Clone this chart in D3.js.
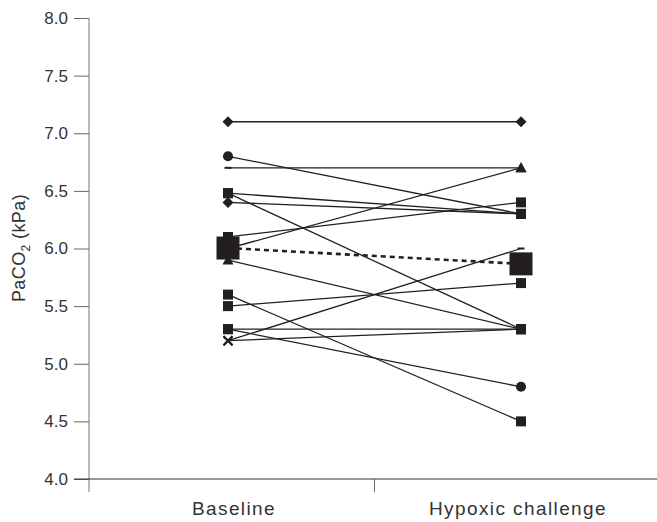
<!DOCTYPE html>
<html>
<head>
<meta charset="utf-8">
<script src="https://cdn.jsdelivr.net/npm/d3@7"></script>
<style>
    body { margin: 0; background: #fff; }
    text { font-family: "Liberation Sans", Arial, sans-serif; fill: #333; }
</style>
</head>
<body>
<div id="chart"></div>
<script>
// categories on the x axis
const conditions = ["Baseline", "Hypoxic challenge"];

// PaCO2 (kPa) per subject
const baseline = [7.1, 6.8, 6.7, 6.48, 6.48, 6.4, 6.1, 6.0, 5.9, 5.6, 5.5, 5.3, 5.3, 5.2, 5.2];
const hypoxic  = [7.1, 6.3, 6.7, 6.3, 5.3, 6.3, 6.4, 6.7, 5.3, 4.5, 5.7, 5.3, 4.8, 6.0, 5.3];

// marker drawn at each end of a subject's line
const baseSymbol = ["diamond", "circle", "dash", "square", "square", "diamond", "square", "square",
                    "triangle", "square", "square", "square", "square", "cross", "cross"];
const hypoSymbol = ["diamond", "square", "triangle", "square", "square", "square", "square", "triangle",
                    "square", "square", "square", "square", "circle", "dash", "square"];

const yTicks = [4.0, 4.5, 5.0, 5.5, 6.0, 6.5, 7.0, 7.5, 8.0];

const width = 657, height = 522;
const ink = "#231f20";

const svg = d3.select("#chart").append("svg")
    .attr("width", width)
    .attr("height", height);

// scales
const x = d3.scalePoint().domain(conditions).range([228, 521]);
const y = d3.scaleLinear().domain([4, 8]).range([479, 18]);

// y axis
const yAxis = svg.append("g")
    .attr("transform", "translate(89,0)")
    .call(d3.axisLeft(y).tickValues(yTicks).tickFormat(d3.format(".1f")).tickSize(15).tickPadding(6));
yAxis.select(".domain").remove();
yAxis.selectAll(".tick line").attr("stroke", "#666");
yAxis.selectAll(".tick text").attr("font-size", 17).style("fill", "#333");
yAxis.append("line")
    .attr("x1", 0).attr("x2", 0)
    .attr("y1", y(8)).attr("y2", y(4) + 13)
    .attr("stroke", "#777");

// x axis
svg.append("line")
    .attr("x1", 74).attr("x2", width)
    .attr("y1", y(4)).attr("y2", y(4))
    .attr("stroke", "#333").attr("stroke-width", 1.2);
const midX = (x(conditions[0]) + x(conditions[1])) / 2;
svg.append("line")
    .attr("x1", midX).attr("x2", midX)
    .attr("y1", y(4)).attr("y2", y(4) + 13)
    .attr("stroke", "#666");
// labels sit a little off the point positions in the original
const labelShift = [6, -3];
svg.selectAll(".x-label")
    .data(conditions)
    .enter().append("text")
    .attr("class", "x-label")
    .attr("x", (d, i) => x(d) + labelShift[i])
    .attr("y", 515)
    .attr("text-anchor", "middle")
    .attr("font-size", 19)
    .attr("letter-spacing", 1.4)
    .text(d => d);

// y label with subscript
const yLabel = svg.append("text")
    .attr("transform", "translate(25,248) rotate(-90)")
    .attr("text-anchor", "middle")
    .attr("font-size", 18)
    .attr("letter-spacing", 0.4);
yLabel.append("tspan").text("PaCO");
yLabel.append("tspan").text("2").attr("font-size", 12).attr("dy", 5);
yLabel.append("tspan").text(" (kPa)").attr("dy", -5);

// subject lines
const pairs = baseline.map((b, i) => ({b: b, h: hypoxic[i], bs: baseSymbol[i], hs: hypoSymbol[i]}));

svg.selectAll(".subject")
    .data(pairs)
    .enter().append("line")
    .attr("class", "subject")
    .attr("x1", x(conditions[0])).attr("y1", d => y(d.b))
    .attr("x2", x(conditions[1])).attr("y2", d => y(d.h))
    .attr("stroke", ink).attr("stroke-width", 1.3);

// marker shapes
function markerPath(type) {
    switch (type) {
        case "square": return "M-5,-5H5V5H-5Z";
        case "diamond": return "M0,-5.5L5.5,0L0,5.5L-5.5,0Z";
        case "circle": return d3.symbol(d3.symbolCircle, 80)();
        case "triangle": return "M0,-5.5L5.5,4.5H-5.5Z";
        case "dash": return "M-3.5,-1H3.5V1H-3.5Z";
        default: return "";
    }
}

function drawMarkers(cls, cx, accessor, symAccessor) {
    const g = svg.selectAll("." + cls)
        .data(pairs)
        .enter().append("g")
        .attr("class", cls)
        .attr("transform", d => `translate(${cx},${y(accessor(d))})`);
    g.filter(d => symAccessor(d) !== "cross")
        .append("path")
        .attr("d", d => markerPath(symAccessor(d)))
        .attr("fill", ink);
    g.filter(d => symAccessor(d) === "cross")
        .append("path")
        .attr("d", "M-4.5,-4.5L4.5,4.5M-4.5,4.5L4.5,-4.5")
        .attr("stroke", ink).attr("stroke-width", 2).attr("fill", "none");
}

drawMarkers("base-mark", x(conditions[0]), d => d.b, d => d.bs);
drawMarkers("hypo-mark", x(conditions[1]), d => d.h, d => d.hs);

// group means, dashed line and large squares
const means = [d3.mean(baseline), d3.mean(hypoxic)];

svg.append("line")
    .attr("x1", x(conditions[0])).attr("y1", y(means[0]))
    .attr("x2", x(conditions[1])).attr("y2", y(means[1]))
    .attr("stroke", ink).attr("stroke-width", 2.6)
    .attr("stroke-dasharray", "5,4");

svg.selectAll(".mean-mark")
    .data(means)
    .enter().append("rect")
    .attr("class", "mean-mark")
    .attr("x", (d, i) => x(conditions[i]) - 11.5)
    .attr("y", d => y(d) - 11.5)
    .attr("width", 23).attr("height", 23)
    .attr("fill", ink);
</script>
</body>
</html>
